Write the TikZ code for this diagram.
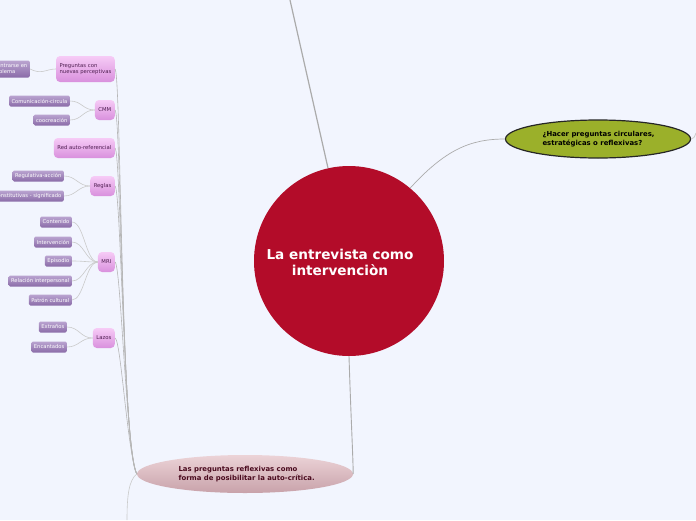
\documentclass[tikz,border=0pt]{standalone}
\usepackage{fontspec}
\setmainfont{DejaVu Sans}
\usetikzlibrary{shapes.geometric}
\definecolor{bg}{HTML}{F2F5FE}
\definecolor{crim}{HTML}{B30C29}
\definecolor{olive}{HTML}{9BB02A}
\definecolor{pinkT}{HTML}{F6CBF6}
\definecolor{pinkB}{HTML}{D990DD}
\definecolor{pinktext}{HTML}{4E1E50}
\definecolor{leafT}{HTML}{BAA4D0}
\definecolor{leafB}{HTML}{8A6BA8}
\definecolor{roseT}{HTML}{ECD3D7}
\definecolor{roseB}{HTML}{C8A2AA}
\definecolor{maroon}{HTML}{4A0A1E}
\definecolor{mainln}{HTML}{ABABAB}
\definecolor{thinln}{HTML}{CACACA}
\tikzset{
  leaf/.style={rounded corners=1.5pt, top color=leafT, bottom color=leafB, text=white,
    font=\fontsize{5.2}{6.2}\selectfont, inner xsep=2.5pt, inner ysep=0pt,
    minimum height=11pt, anchor=east, align=left},
  hub/.style={rounded corners=4pt, top color=pinkT, bottom color=pinkB, text=pinktext,
    font=\fontsize{5.3}{6.3}\selectfont, inner xsep=3.5pt, inner ysep=0pt,
    minimum height=20pt, anchor=east, align=left},
  thin/.style={draw=thinln, line width=0.6pt},
  bundle/.style={draw=thinln!90!black, line width=0.6pt},
  mainline/.style={draw=mainln, line width=1.2pt}
}
\begin{document}
\begin{tikzpicture}[x=1pt,y=-1pt]
\fill[bg] (0,0) rectangle (696,520);
\useasboundingbox (0,0) rectangle (696,520);

% main nodes
\node[circle, fill=crim, minimum size=190pt, inner sep=0pt] (center) at (349,261) {};
\node[text=white, font=\fontsize{13.6}{16}\selectfont\bfseries, align=center] (ctext) at (340,262)
  {La entrevista como\\intervenciòn};

\node[ellipse, fill=olive, draw=black!85, line width=1.2pt, minimum width=185pt, minimum height=38pt, inner sep=0pt] (green) at (598,139) {};
\node[anchor=west, font=\fontsize{6.9}{9}\selectfont\bfseries, align=left, text=black] (gtext) at (539,139)
  {¿Hacer preguntas circulares,\\estratégicas o reflexivas?};

\node[ellipse, top color=roseT, bottom color=roseB, minimum width=216pt, minimum height=38pt, inner sep=0pt] (bottom) at (245,474) {};
\node[anchor=west, font=\fontsize{6.9}{9}\selectfont\bfseries, align=left, text=maroon] (btext) at (175,474)
  {Las preguntas reflexivas como\\forma de posibilitar la auto-crítica.};

% free ends
\coordinate (topend) at (290,0);
\coordinate (rightend) at (696,133);
\coordinate (botend) at (127,520);

% hubs
\node[hub, minimum height=26pt] (p1) at (115,69) {Preguntas con\\nuevas perceptivas};
\node[hub] (p2) at (115,110) {CMM};
\node[hub] (p3) at (115,148) {Red auto-referencial};
\node[hub] (p4) at (115,186) {Reglas};
\node[hub] (p5) at (115,262) {MRI};
\node[hub] (p6) at (115,338) {Lazos};

% leaves
\node[leaf, minimum height=17pt] (l1) at (30,69) {Concentrarse en\\el problema};
\node[leaf] (l2) at (70,101) {Comunicación-circula};
\node[leaf] (l3) at (70,120) {coocreación};
\node[leaf] (l4) at (64,176) {Regulativa-acción};
\node[leaf] (l5) at (64,196) {Constitutivas - significado};
\node[leaf] (l6) at (72,222) {Contenido};
\node[leaf] (l7) at (72,242) {Intervención};
\node[leaf] (l8) at (72,261) {Episodio};
\node[leaf] (l9) at (72,281) {Relación interpersonal};
\node[leaf] (l10) at (72,300) {Patrón cultural};
\node[leaf] (l11) at (67,327) {Extraños};
\node[leaf] (l12) at (67,347) {Encantados};

% main connectors
\draw[mainline] (topend) -- (center);
\draw[draw=thinln!85!black, line width=0.7pt] (center.50) .. controls (445,150) and (470,139) .. (green.west);
\draw[draw=thinln, line width=0.8pt] (green.east) .. controls (694,138) .. (rightend);
\draw[draw=mainln, line width=0.9pt] (center.south) .. controls (351,420) and (353,455) .. (bottom.east);

% bundle from bottom ellipse to hubs
\foreach \p/\c in {p1/121, p2/122, p3/123, p4/124, p5/126, p6/127}{
  \draw[bundle] (\p.east) .. controls +(6,2) and (\c,450) .. (bottom.west);
}
\draw[thin] (bottom.west) .. controls (129,480) and (127,495) .. (botend);

% hub to leaves
\draw[thin] (p1.west) .. controls +(-10,0) and +(12,6) .. (l1.east);
\foreach \p/\l in {p2/l2, p2/l3, p4/l4, p4/l5, p5/l6, p5/l7, p5/l8, p5/l9, p5/l10, p6/l11, p6/l12}{
  \draw[thin] (\p.west) .. controls +(-12,0) and +(12,0) .. (\l.east);
}
\end{tikzpicture}
\end{document}
